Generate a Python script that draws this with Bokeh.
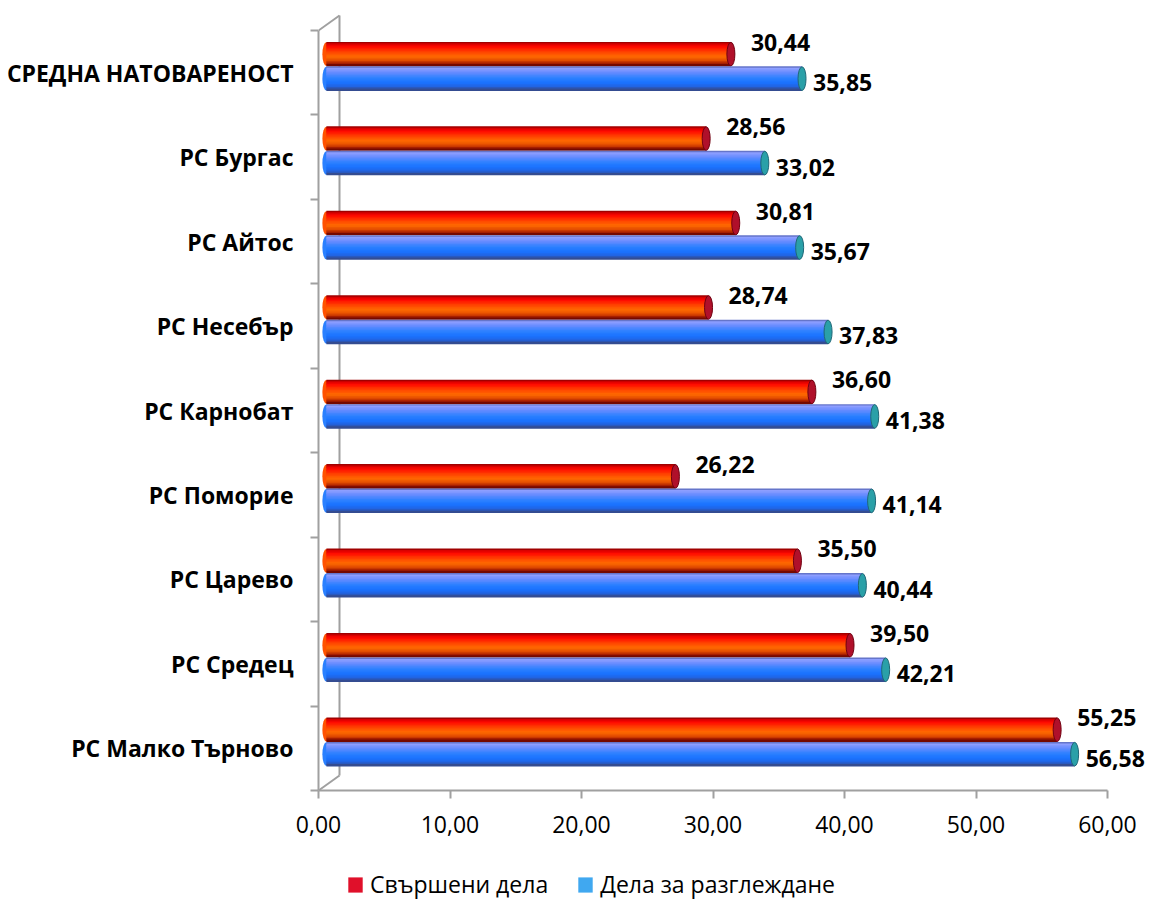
from bokeh.plotting import figure
from bokeh.layouts import column
from bokeh.models import Range1d, FixedTicker, Legend, LegendItem, ColumnDataSource, LabelSet
from bokeh.embed import file_html
from bokeh.resources import INLINE
from bokeh.core.properties import value

# ---------------- data ----------------
categories = ["СРЕДНА НАТОВАРЕНОСТ", "РС Бургас", "РС Айтос", "РС Несебър", "РС Карнобат",
              "РС Поморие", "РС Царево", "РС Средец", "РС Малко Търново"]
done = [30.44, 28.56, 30.81, 28.74, 36.60, 26.22, 35.50, 39.50, 55.25]
pending = [35.85, 33.02, 35.67, 37.83, 41.38, 41.14, 40.44, 42.21, 56.58]
series_names = ["Свършени дела", "Дела за разглеждане"]
x_ticks = [0, 10, 20, 30, 40, 50, 60]
x_tick_labels = ["0,00", "10,00", "20,00", "30,00", "40,00", "50,00", "60,00"]

# ---------------- layout / style ----------------
FONT = "Open Sans"
W, H = 1146, 848
LEG_H = 52
BL, BT, BB, BR = 318, 12, 58, 0
PXX = 789 / 60.0          # px per x unit
PXY = 760 / 9.0           # px per category
FRAME_W = W - BL - BR
FRAME_H = H - BT - BB
N = len(categories)
x_end = FRAME_W / PXX
y_top = N - FRAME_H / PXY

BAR_H = 0.28
RED_OFF = -0.22
BLUE_OFF = 0.07
START = 0.6
END_OFF = 0.92
DX = 21 / PXX
DY = 15 / PXY
K = 16

RED_STOPS = [(0.0, "#7a0000"), (0.07, "#d00000"), (0.2, "#ff0800"), (0.42, "#ff4200"),
             (0.62, "#ff6a00"), (0.8, "#e04a00"), (0.92, "#a01800"), (1.0, "#5a0000")]
BLUE_STOPS = [(0.0, "#4a5aa8"), (0.08, "#90a0ff"), (0.25, "#6a8cff"), (0.5, "#2a80ff"),
              (0.7, "#1a72ff"), (0.86, "#2262e0"), (0.95, "#3050a0"), (1.0, "#3a4478")]


def hex2rgb(h):
    h = h.lstrip("#")
    return tuple(int(h[i:i + 2], 16) for i in (0, 2, 4))


def grad(stops, t):
    for (t0, c0), (t1, c1) in zip(stops[:-1], stops[1:]):
        if t0 <= t <= t1:
            f = (t - t0) / (t1 - t0) if t1 > t0 else 0
            a, b = hex2rgb(c0), hex2rgb(c1)
            return "#%02x%02x%02x" % tuple(int(round(a[i] + (b[i] - a[i]) * f)) for i in range(3))
    return stops[-1][1]


p = figure(width=W, height=H, output_backend="svg", toolbar_location=None,
           x_range=Range1d(0, x_end), y_range=Range1d(start=N, end=y_top),
           min_border_left=BL, min_border_top=BT, min_border_bottom=BB, min_border_right=BR)
p.outline_line_color = None
p.xgrid.visible = False
p.ygrid.visible = False
p.background_fill_color = "white"

centers = [i + 0.5 for i in range(N)]

# 3D wall lines
p.segment(x0=[0, 0, DX], y0=[0, N, -DY], x1=[DX, DX, DX], y1=[-DY, N - DY, N - DY],
          line_color="#a0a0a0", line_width=2)


def cylinder(vals, off, stops, cap_fill, cap_line):
    ys = [c + off for c in centers]
    rights = [v + END_OFF for v in vals]
    mid = grad(stops, 0.5)
    p.ellipse(x=[START] * N, y=ys, width=8, height=BAR_H, width_units="screen",
              height_units="data", fill_color=mid, line_color=None)
    for k in range(K):
        t = (k + 0.5) / K
        yk = [y - BAR_H / 2 + (k + 0.5) * BAR_H / K for y in ys]
        p.hbar(y=yk, left=START, right=rights, height=BAR_H / K * 1.6,
               fill_color=grad(stops, t), line_color=None)
    p.ellipse(x=rights, y=ys, width=8, height=BAR_H, width_units="screen",
              height_units="data", fill_color=cap_fill, line_color=cap_line, line_width=1)
    return ys, rights


ys_r, rr = cylinder(done, RED_OFF, RED_STOPS, "#b0102a", "#700010")
ys_b, rb = cylinder(pending, BLUE_OFF, BLUE_STOPS, "#2aa0a8", "#206878")


def fmt(v):
    return ("%.2f" % v).replace(".", ",")


src_r = ColumnDataSource(dict(x=rr, y=ys_r, t=[fmt(v) for v in done]))
src_b = ColumnDataSource(dict(x=rb, y=ys_b, t=[fmt(v) for v in pending]))
p.add_layout(LabelSet(x="x", y="y", text="t", source=src_r, x_offset=20, y_offset=12,
                      text_font=value(FONT), text_font_style="bold", text_font_size="23px",
                      text_baseline="middle", text_align="left", text_color="black"))
p.add_layout(LabelSet(x="x", y="y", text="t", source=src_b, x_offset=11, y_offset=-4,
                      text_font=value(FONT), text_font_style="bold", text_font_size="23px",
                      text_baseline="middle", text_align="left", text_color="black"))

# axes
xa = p.xaxis[0]
xa.ticker = FixedTicker(ticks=x_ticks)
xa.major_label_overrides = {t: l for t, l in zip(x_ticks, x_tick_labels)}
xa.bounds = (0, 60)
xa.axis_line_color = "#a0a0a0"
xa.axis_line_width = 2
xa.major_tick_line_color = "#a0a0a0"
xa.major_tick_line_width = 2
xa.major_tick_out = 8
xa.major_tick_in = 0
xa.minor_tick_line_color = None
xa.major_label_text_font = FONT
xa.major_label_text_font_size = "23px"
xa.major_label_text_color = "black"
xa.major_label_standoff = 17

ya = p.yaxis[0]
ya.ticker = FixedTicker(ticks=centers, minor_ticks=list(range(N + 1)))
ya.major_label_overrides = {c: n for c, n in zip(centers, categories)}
ya.bounds = (0, N)
ya.axis_line_color = "#a0a0a0"
ya.axis_line_width = 2
ya.major_tick_line_color = None
ya.major_tick_out = 0
ya.major_tick_in = 0
ya.minor_tick_line_color = "#a0a0a0"
ya.minor_tick_line_width = 2
ya.minor_tick_out = 8
ya.minor_tick_in = 0
ya.major_label_text_font = FONT
ya.major_label_text_font_style = "bold"
ya.major_label_text_font_size = "23px"
ya.major_label_text_color = "black"
ya.major_label_standoff = 17

# legend (separate strip below the chart; its frame aligns with the chart frame)
pl = figure(width=W, height=LEG_H, output_backend="svg", toolbar_location=None,
            x_range=Range1d(0, 1), y_range=Range1d(0, 1),
            x_axis_location=None, y_axis_location=None,
            min_border_left=0, min_border_right=0, min_border_top=0, min_border_bottom=0)
pl.outline_line_color = None
pl.xgrid.visible = False
pl.ygrid.visible = False
pl.background_fill_alpha = 0
# legend swatches: one hidden bar each, placed outside the visible x range
lr = pl.hbar(y=[0.5], left=[5], right=[6], height=0.1, fill_color="#e0102a", line_color=None)
lb = pl.hbar(y=[0.5], left=[5], right=[6], height=0.1, fill_color="#40a8f0", line_color=None)
legend = Legend(items=[LegendItem(label=series_names[0], renderers=[lr]),
                       LegendItem(label=series_names[1], renderers=[lb])],
                orientation="horizontal", location=(28, 0), glyph_width=18, glyph_height=19,
                label_text_font=FONT, label_text_font_size="23px", label_text_color="black",
                spacing=28, label_standoff=6, padding=0, margin=0, border_line_alpha=0,
                background_fill_alpha=0)
pl.add_layout(legend, "center")

layout = column(p, pl, spacing=0)
open("out.html", "w").write(file_html(layout, INLINE))
